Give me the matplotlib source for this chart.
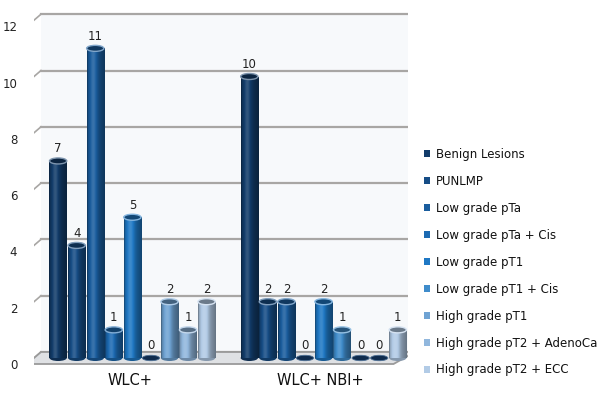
import numpy as np
import matplotlib
matplotlib.use("Agg")
import matplotlib.pyplot as plt
from matplotlib.patches import Ellipse, Polygon
import matplotlib.transforms as mtransforms
from matplotlib.colors import to_rgb

groups = ["WLC+", "WLC+ NBI+"]
series = ["Benign Lesions", "PUNLMP", "Low grade pTa", "Low grade pTa + Cis",
          "Low grade pT1", "Low grade pT1 + Cis", "High grade pT1",
          "High grade pT2 + AdenoCa", "High grade pT2 + ECC"]
wlc = [7, 4, 11, 1, 5, 0, 2, 1, 2]
wlc_nbi = [10, 2, 2, 0, 2, 1, 0, 0, 1]
colors = ["#123c6a", "#164d86", "#1a5d9e", "#1c6ab2", "#1f78c4",
          "#3f8ccb", "#6fa3d3", "#91b7dd", "#b2cbe6"]
yticks = [0, 2, 4, 6, 8, 10, 12]

W, H, DPI = 600, 393, 100
fig = plt.figure(figsize=(W / DPI, H / DPI), dpi=DPI, facecolor="white")

L, R = 34, 408
ylo, yhi = -0.25, 12.6
ppu = 28.15
bottom_px = 358 + (-ylo) * ppu
top_px = 358 - yhi * ppu
ax = fig.add_axes([L / W, 1 - bottom_px / H, (R - L) / W, (bottom_px - top_px) / H])
ax.set_xlim(-5.3, 14.85)
ax.set_ylim(ylo, yhi)
for s in ax.spines.values():
    s.set_visible(False)
ax.set_facecolor("none")

axw = R - L
dxb, dyb = 7 / axw, 6 / ppu     # back
dxf, dyf = -7 / axw, -6 / ppu   # front
bt = mtransforms.blended_transform_factory(ax.transAxes, ax.transData)

# back wall
ax.add_patch(Polygon([(dxb, dyb), (1 + dxb, dyb), (1 + dxb, 12 + dyb), (dxb, 12 + dyb)],
                     closed=True, transform=bt, facecolor="#f7f9fb", edgecolor="none", zorder=0))
# floor
ax.add_patch(Polygon([(dxf, dyf), (1 + dxf - 0.02, dyf), (1 + dxb, dyb), (dxb, dyb)],
                     closed=True, transform=bt, facecolor="#dfe1e4", edgecolor="#9a9a9a",
                     lw=1.3, zorder=1))
for t in yticks:
    ax.plot([dxb, 1 + dxb], [t + dyb, t + dyb], transform=bt, color="#a8a6a4", lw=1.6, zorder=0.5)
    ax.plot([dxf, dxb], [t + dyf, t + dyb], transform=bt, color="#a8a6a4", lw=1.2, zorder=0.5)
ax.plot([dxf, dxf], [dyf, 12 + dyf], transform=bt, color="#a8a6a4", lw=1.6, zorder=0.5)

ax.set_yticks(yticks)
ax.set_yticklabels([str(t) for t in yticks], fontsize=8.5, color="#222222")
ax.tick_params(axis="y", length=0, pad=12)
off = mtransforms.ScaledTranslation(0, -6 / DPI, fig.dpi_scale_trans)
for lab in ax.get_yticklabels():
    lab.set_transform(lab.get_transform() + off)
ax.set_xticks([])

centers = [0, 10.3]
bw = 0.93
eh = 6 / ppu
grad = np.linspace(0, 1, 64)
shade = 0.72 + 0.42 * np.exp(-((grad - 0.35) / 0.25) ** 2) - 0.15 * grad ** 4
shade[0:3] = 0.6

def lighten(c, f):
    c = np.array(to_rgb(c))
    if f >= 1:
        return tuple(np.clip(c + (1 - c) * (f - 1), 0, 1))
    return tuple(c * f)

handles = []
for gi, vals in enumerate([wlc, wlc_nbi]):
    for i, v in enumerate(vals):
        x = centers[gi] + (i - 4)
        col = colors[i]
        b = ax.bar(x, v, width=bw, color=col, edgecolor="none", zorder=2)
        if gi == 0:
            handles.append(b)
        if v > 0:
            rect = b.patches[0]
            img = np.array([[lighten(col, f) for f in shade]])
            im = ax.imshow(img, extent=(x - bw / 2, x + bw / 2, 0, v), aspect="auto",
                           zorder=2.1, interpolation="bilinear")
            im.set_clip_path(rect)
            ax.add_patch(Ellipse((x, 0), bw, eh, facecolor=lighten(col, 0.75),
                                 edgecolor="none", zorder=1.9))
            ax.add_patch(Ellipse((x, v), bw, eh, facecolor=lighten(col, 0.6),
                                 edgecolor=lighten(col, 1.45), lw=1.0, zorder=2.3))
        else:
            ax.add_patch(Ellipse((x, 0), bw, eh * 0.9, facecolor="#0f2b4d",
                                 edgecolor="#4d6f94", lw=0.6, zorder=2.3))
        ax.annotate(str(v), (x, v), xytext=(0, 4), textcoords="offset points",
                    ha="center", va="bottom", fontsize=8.5, color="#222222", zorder=3)

for gi, g in enumerate(groups):
    ax.text(centers[gi] - 0.15, -0.55, g, ha="center", va="top", fontsize=10.5, color="#111111")

ax.set_xlim(-5.3, 14.85)
ax.set_ylim(ylo, yhi)

leg = fig.legend([h.patches[0] for h in handles], series, loc="upper left",
                 bbox_to_anchor=(424 / W, 1 - 148 / H), frameon=False, fontsize=8.5,
                 handlelength=0.55, handleheight=0.55, handletextpad=0.45,
                 labelspacing=1.18, borderaxespad=0, borderpad=0)
for t in leg.get_texts():
    t.set_color("#111111")

fig.savefig("out.png", dpi=DPI, facecolor="white")
